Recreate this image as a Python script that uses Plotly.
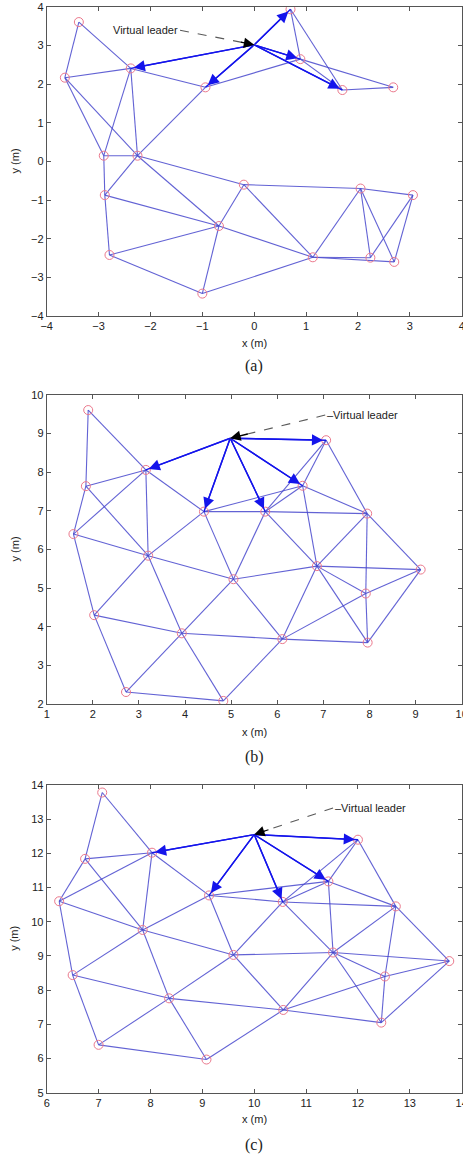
import plotly.graph_objects as go

# ---------------- data ----------------
# Panel (a)
leader_a = (0.0, 3.02)
xa = [-3.38, -3.65, -2.38, -0.94, 0.70, 0.89, 1.70, 2.68, -2.90, -2.25,
      -0.20, 2.05, 3.06, -2.88, -0.68, -2.79, -1.00, 1.13, 2.24, 2.70]
ya = [3.61, 2.17, 2.41, 1.92, 3.94, 2.65, 1.85, 1.92, 0.15, 0.15,
      -0.60, -0.70, -0.87, -0.87, -1.67, -2.42, -3.42, -2.48, -2.49, -2.60]
edges_a = [(1, 2), (1, 3), (2, 3), (2, 9), (2, 10), (3, 9), (3, 10), (3, 4), (4, 10),
           (4, 6), (5, 6), (5, 7), (6, 7), (6, 8), (7, 8), (9, 10), (9, 14), (10, 14),
           (10, 15), (10, 11), (11, 12), (12, 13), (11, 15), (11, 18), (14, 15),
           (15, 18), (14, 16), (16, 15), (15, 17), (16, 17), (17, 18), (18, 12),
           (18, 19), (18, 20), (12, 19), (12, 20), (13, 19), (13, 20)]
leader_links_a = [3, 4, 5, 6, 7]
label_a = (-1.43, 3.40)

# Panel (b)
leader_b = (4.98, 8.88)
xb = [1.90, 7.06, 3.15, 1.85, 6.55, 4.41, 5.74, 7.95, 1.58, 3.20,
      9.11, 5.05, 6.86, 7.92, 2.03, 3.93, 6.11, 7.96, 2.72, 4.83]
yb = [9.61, 8.83, 8.06, 7.64, 7.65, 6.98, 6.98, 6.93, 6.40, 5.84,
      5.48, 5.23, 5.57, 4.86, 4.30, 3.83, 3.68, 3.59, 2.31, 2.08]
label_b = (7.04, 9.48)

# Panel (c)
leader_c = (10.0, 12.55)
xc = [7.07, 12.00, 8.03, 6.74, 11.43, 9.13, 10.55, 12.73, 6.24, 7.85,
      13.76, 9.60, 11.52, 12.52, 6.50, 8.36, 10.56, 12.45, 7.00, 9.08]
yc = [13.78, 12.40, 12.02, 11.84, 11.18, 10.77, 10.58, 10.45, 10.60, 9.76,
      8.85, 9.03, 9.10, 8.40, 8.44, 7.76, 7.42, 7.05, 6.40, 5.97]
label_c = (11.52, 13.33)

edges_bc = [(1, 4), (1, 3), (4, 3), (4, 9), (4, 10), (3, 9), (3, 10), (3, 6), (6, 7),
            (7, 8), (6, 5), (7, 2), (7, 5), (2, 5), (2, 8), (5, 8), (5, 13), (6, 12),
            (6, 10), (7, 12), (7, 13), (8, 13), (8, 14), (8, 11), (9, 10), (9, 15),
            (10, 12), (10, 16), (10, 15), (12, 13), (13, 11), (13, 14), (13, 18),
            (13, 17), (12, 16), (12, 17), (14, 11), (14, 17), (14, 18), (11, 18),
            (15, 16), (15, 19), (16, 17), (17, 18), (16, 19), (16, 20), (19, 20),
            (20, 17)]
leader_links_bc = [3, 2, 6, 7, 5]

xranges = [(-4, 4), (1, 10), (6, 14)]
yranges = [(-4, 4), (2, 10), (5, 14)]
xticks = [list(range(-4, 5)), list(range(1, 11)), list(range(6, 15))]
yticks = [list(range(-4, 5)), list(range(2, 11)), list(range(5, 15))]
captions = ["(a)", "(b)", "(c)"]

# ---------------- layout geometry (pixels) ----------------
W, H = 463, 1159
plot_left, plot_right = 46.7, 461.7
panel_px = [(7, 316), (395, 704), (785, 1092.7)]      # top, bottom of plot area
xtitle_px = [343, 732, 1119]
caption_px = [366, 757, 1145]

def py(p):
    return 1 - p / H

EDGE_COL = "rgba(70,70,205,0.85)"
ARROW_COL = "rgb(20,20,235)"
NODE_COL = "rgb(235,120,140)"

fig = go.Figure()
annotations = []

panels = [
    (xa, ya, edges_a, leader_a, leader_links_a, label_a, "right"),
    (xb, yb, edges_bc, leader_b, leader_links_bc, label_b, "left"),
    (xc, yc, edges_bc, leader_c, leader_links_bc, label_c, "left"),
]

for k, (xs, ys, edges, lead, links, lab, anchor) in enumerate(panels):
    sfx = "" if k == 0 else str(k + 1)
    xref, yref = "x" + sfx, "y" + sfx
    # edges
    ex, ey = [], []
    for i, j in edges:
        ex += [xs[i - 1], xs[j - 1], None]
        ey += [ys[i - 1], ys[j - 1], None]
    fig.add_trace(go.Scatter(x=ex, y=ey, mode="lines", xaxis=xref, yaxis=yref,
                             line=dict(color=EDGE_COL, width=1.1),
                             hoverinfo="skip", showlegend=False))
    # leader links (lines)
    lx, ly = [], []
    for j in links:
        lx += [lead[0], xs[j - 1], None]
        ly += [lead[1], ys[j - 1], None]
    fig.add_trace(go.Scatter(x=lx, y=ly, mode="lines", xaxis=xref, yaxis=yref,
                             line=dict(color=ARROW_COL, width=1.4),
                             hoverinfo="skip", showlegend=False))
    # nodes
    fig.add_trace(go.Scatter(x=xs, y=ys, mode="markers", xaxis=xref, yaxis=yref,
                             marker=dict(symbol="circle-open", size=9,
                                         color=NODE_COL, line=dict(width=1, color=NODE_COL)),
                             hoverinfo="skip", showlegend=False))
    # dashed pointer to virtual leader
    fig.add_trace(go.Scatter(x=[lab[0], lead[0]], y=[lab[1], lead[1]], mode="lines",
                             xaxis=xref, yaxis=yref,
                             line=dict(color="rgb(90,90,90)", width=1.1, dash="dash"),
                             hoverinfo="skip", showlegend=False))
    # arrowheads to followers
    for j in links:
        annotations.append(dict(x=xs[j - 1], y=ys[j - 1], ax=lead[0], ay=lead[1],
                                xref=xref, yref=yref, axref=xref, ayref=yref,
                                showarrow=True, arrowhead=2, arrowsize=1.6,
                                arrowwidth=1.4, arrowcolor=ARROW_COL, standoff=3, text=""))
    # black arrowhead at virtual leader
    annotations.append(dict(x=lead[0], y=lead[1],
                            ax=lead[0] + 0.2 * (lab[0] - lead[0]),
                            ay=lead[1] + 0.2 * (lab[1] - lead[1]),
                            xref=xref, yref=yref, axref=xref, ayref=yref,
                            showarrow=True, arrowhead=2, arrowsize=1.6,
                            arrowwidth=1.3, arrowcolor="black", standoff=0, text=""))
    # label text
    annotations.append(dict(x=lab[0], y=lab[1], xref=xref, yref=yref,
                            text=("Virtual leader" if anchor == "right" else "\u2013Virtual leader"),
                            showarrow=False, xanchor=anchor, yanchor="middle",
                            font=dict(size=11, color="#222")))
    # axis titles and caption
    top, bot = panel_px[k]
    annotations.append(dict(x=(plot_left + plot_right) / 2 / W, y=py(xtitle_px[k]),
                            xref="paper", yref="paper", text="x (m)", showarrow=False,
                            xanchor="center", yanchor="middle",
                            font=dict(size=11, color="#222")))
    annotations.append(dict(x=14 / W, y=py((top + bot) / 2),
                            xref="paper", yref="paper", text="y (m)", showarrow=False,
                            textangle=-90, xanchor="center", yanchor="middle",
                            font=dict(size=11, color="#222")))
    annotations.append(dict(x=(plot_left + plot_right) / 2 / W, y=py(caption_px[k]),
                            xref="paper", yref="paper", text=captions[k], showarrow=False,
                            xanchor="center", yanchor="middle",
                            font=dict(size=16, color="#222",
                                      family="Liberation Serif, Times New Roman, serif")))

    axis_common = dict(showgrid=False, zeroline=False, showline=True, mirror="ticks",
                       linecolor="#555", linewidth=1, ticks="inside", ticklen=4,
                       tickcolor="#555", tickfont=dict(size=11, color="#222"),
                       automargin=False)
    fig.layout["xaxis" + sfx] = dict(axis_common, range=list(xranges[k]),
                                     tickvals=xticks[k], ticklabeloverflow="allow",
                                     domain=[plot_left / W, plot_right / W],
                                     anchor=yref)
    fig.layout["yaxis" + sfx] = dict(axis_common, range=list(yranges[k]),
                                     tickvals=yticks[k],
                                     domain=[py(bot), py(top)],
                                     anchor=xref)

fig.update_layout(width=W, height=H, margin=dict(l=0, r=0, t=0, b=0),
                  paper_bgcolor="white", plot_bgcolor="white",
                  font=dict(family="Liberation Sans, Arial, sans-serif", size=11),
                  annotations=annotations, showlegend=False)

fig.write_html("out.html",
               config={"displayModeBar": False},
               post_script="document.body.style.margin='0';"
                           "document.body.style.padding='0';"
                           "document.body.style.overflow='hidden';")
